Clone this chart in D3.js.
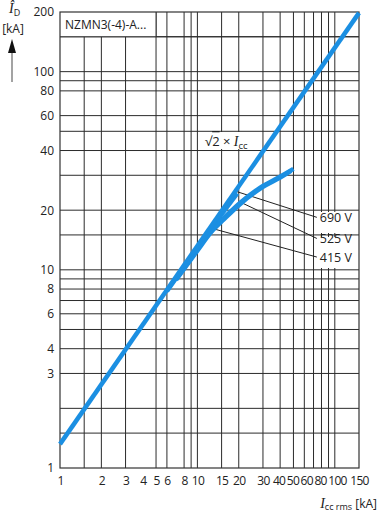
<!DOCTYPE html>
<html><head><meta charset="utf-8">
<script src="https://cdn.jsdelivr.net/npm/d3@7"></script>
<style>
html,body{margin:0;padding:0;background:#fff;}
svg{display:block;}
</style></head>
<body>
<svg id="chart" width="380" height="518"></svg>
<script>
// ---- data ----
const xTickLabels = [1,2,3,4,5,6,8,10,15,20,30,40,50,60,80,100,150];
const xGridValues = [1.5,2,3,5,6,8,9,10,15,20,30,40,50,60,70,80,90,100];
const yTickLabels = [1,3,4,6,8,10,20,40,60,80,100,200];
const yGridValues = [1.5,2,3,4,5,6,7,8,9,10,15,20,30,40,50,60,80,90,100,150];

// peak line (sqrt2 x Icc as drawn)
const peakX = [1, 150];
const peakY = [1.32, 198];
// limited curves
const curve690X = [6, 10, 14, 17, 19.5];
const curve690Y = [7.8, 12.9, 17.9, 21.4, 24.3];
const curve525X = [7, 10, 12.7, 15.5, 20.5, 30, 40, 50];
const curve525Y = [9.0, 12.7, 15.9, 18.2, 21.8, 26.5, 29.5, 32.3];
const curve415X = [7, 10, 12.7, 15.5, 20.5, 30, 40, 48];
const curve415Y = [8.9, 12.5, 15.6, 17.9, 21.5, 26.2, 29.2, 31.6];

const voltLabels = ["690 V", "525 V", "415 V"];
const leaderFromX = [19.4, 21.0, 13.1];
const leaderFromY = [24.8, 21.8, 16.1];
const leaderToX = [74, 74, 74];
const leaderToY = [18.4, 14.4, 11.6];

// ---- layout ----
const svg = d3.select("#chart");
const L = 60, R = 359, T = 12, B = 468;
const x = d3.scaleLog().domain([1,150]).range([L,R]);
const y = d3.scaleLog().domain([1,200]).range([B,T]);
const gridColor = "#2b2b2b";
const blue = "#1b8fe2";
const sans = "'Open Sans', 'DejaVu Sans', sans-serif";

// grid
const g = svg.append("g");
g.selectAll("line.hg").data(yGridValues).enter().append("line")
  .attr("x1", L).attr("x2", R).attr("y1", d=>y(d)).attr("y2", d=>y(d))
  .attr("stroke", gridColor).attr("stroke-width", 1);
g.selectAll("line.vg").data(xGridValues).enter().append("line")
  .attr("x1", d=>x(d)).attr("x2", d=>x(d)).attr("y1", T).attr("y2", B)
  .attr("stroke", gridColor).attr("stroke-width", 1);

// header box
svg.append("rect").attr("x", L).attr("y", T).attr("width", x(5)-L).attr("height", y(150)-T)
  .attr("fill", "#fff");
svg.append("line").attr("x1", x(5)).attr("x2", x(5)).attr("y1", T).attr("y2", y(150))
  .attr("stroke", gridColor);
svg.append("line").attr("x1", L).attr("x2", R).attr("y1", y(150)).attr("y2", y(150))
  .attr("stroke", gridColor);
svg.append("text").attr("x", L+5).attr("y", 28.5).text("NZMN3(-4)-A...")
  .attr("font-family", sans).attr("font-size", 12).attr("fill", "#222");

// frame
svg.append("rect").attr("x", L).attr("y", T).attr("width", R-L).attr("height", B-T)
  .attr("fill", "none").attr("stroke", "#333").attr("stroke-width", 1.2);

// label boxes
const boxes = [[203,132,54,17],[316,212,41,21],[316,237,41,31]];
svg.selectAll("rect.lb").data(boxes).enter().append("rect")
  .attr("x", d=>d[0]).attr("y", d=>d[1]).attr("width", d=>d[2]).attr("height", d=>d[3])
  .attr("fill", "#fff");

// leaders
svg.selectAll("line.ld").data(voltLabels).enter().append("line")
  .attr("x1", (d,i)=>x(leaderFromX[i])).attr("y1", (d,i)=>y(leaderFromY[i]))
  .attr("x2", (d,i)=>x(leaderToX[i])).attr("y2", (d,i)=>y(leaderToY[i]))
  .attr("stroke", "#222").attr("stroke-width", 1);
svg.selectAll("text.vl").data(voltLabels).enter().append("text")
  .attr("x", (d,i)=>x(leaderToX[i]) + 3).attr("y", (d,i)=>y(leaderToY[i]))
  .attr("dy", "0.38em").text(d=>d)
  .attr("font-family", sans).attr("font-size", 12.5).attr("fill", "#222");

// curves
const line = d3.line().x(d=>x(d[0])).y(d=>y(d[1])).curve(d3.curveMonotoneX);
const series = [
  [curve415X, curve415Y],
  [curve525X, curve525Y],
  [curve690X, curve690Y],
  [peakX, peakY]
];
svg.selectAll("path.s").data(series).enter().append("path")
  .attr("d", d=>line(d[0].map((v,i)=>[v, d[1][i]])))
  .attr("fill", "none").attr("stroke", blue).attr("stroke-width", 4.5)
  .attr("stroke-linecap", "butt");

// sqrt2 label
const sl = svg.append("text").attr("x", 205).attr("y", 146)
  .attr("font-family", sans).attr("font-size", 13).attr("fill", "#222");
sl.append("tspan").text("√");
sl.append("tspan").text("2").attr("text-decoration", "overline");
sl.append("tspan").text(" × ");
sl.append("tspan").text("I").attr("font-family", "'Liberation Serif', serif").attr("font-style", "italic").attr("font-size", 14);
sl.append("tspan").text("cc").attr("font-size", 9.5).attr("dy", 2.5);

// axes labels
const ya = svg.append("g").attr("transform", `translate(${L},0)`)
  .call(d3.axisLeft(y).tickValues(yTickLabels).tickFormat(d3.format("d")).tickSize(0).tickPadding(6));
ya.select(".domain").remove();
ya.selectAll("text").attr("font-family", sans).attr("font-size", 12).attr("fill", "#222");

const xa = svg.append("g").attr("transform", `translate(0,${B})`)
  .call(d3.axisBottom(x).tickValues(xTickLabels).tickFormat(d3.format("d")).tickSize(0).tickPadding(8));
xa.select(".domain").remove();
const xLabelSel = xa.selectAll("text").attr("font-family", sans)
  .attr("font-size", 12).attr("letter-spacing", -0.7).attr("fill", "#222");

// simple de-overlap of crowded x tick labels
(function(){
  const nodes = xLabelSel.nodes();
  const items = nodes.map((n,i)=>({n, c: x(xTickLabels[i]), w: n.getComputedTextLength()}));
  const pos = items.map(it=>it.c);
  const gap = 1.5;
  for (let iter=0; iter<200; iter++){
    let moved=false;
    for (let i=0;i<items.length-1;i++){
      const need = items[i].w/2 + items[i+1].w/2 + gap;
      const d = pos[i+1]-pos[i];
      if (d < need){ const s=(need-d)/2; pos[i]-=s; pos[i+1]+=s; moved=true; }
    }
    if(!moved) break;
  }
  nodes.forEach((n,i)=>d3.select(n).attr("dx", pos[i]-items[i].c));
})();

// y title
const yt = svg.append("text").attr("x", 9).attr("y", 13).attr("fill", "#222");
yt.append("tspan").text("Î").attr("font-family", "'Liberation Serif', serif").attr("font-style", "italic").attr("font-size", 14);
yt.append("tspan").text("D").attr("font-family", sans).attr("font-size", 9).attr("dy", 3);
svg.append("text").attr("x", 13).attr("y", 33).attr("text-anchor", "middle").text("[kA]")
  .attr("font-family", sans).attr("font-size", 12).attr("fill", "#222");
svg.append("line").attr("x1", 12).attr("x2", 12).attr("y1", 50).attr("y2", 82)
  .attr("stroke", "#666").attr("stroke-width", 1.2);
svg.append("path").attr("d", "M12,39 L8,53 L16,53 Z").attr("fill", "#111");

// x title
const xt = svg.append("text").attr("x", 377).attr("y", 508).attr("text-anchor", "end").attr("fill", "#222");
xt.append("tspan").text("I").attr("font-family", "'Liberation Serif', serif").attr("font-style", "italic").attr("font-size", 14);
xt.append("tspan").text("cc rms").attr("font-family", sans).attr("font-size", 9).attr("dy", 2);
xt.append("tspan").text(" [kA]").attr("font-family", sans).attr("font-size", 12).attr("dy", -2);
</script>
</body></html>
